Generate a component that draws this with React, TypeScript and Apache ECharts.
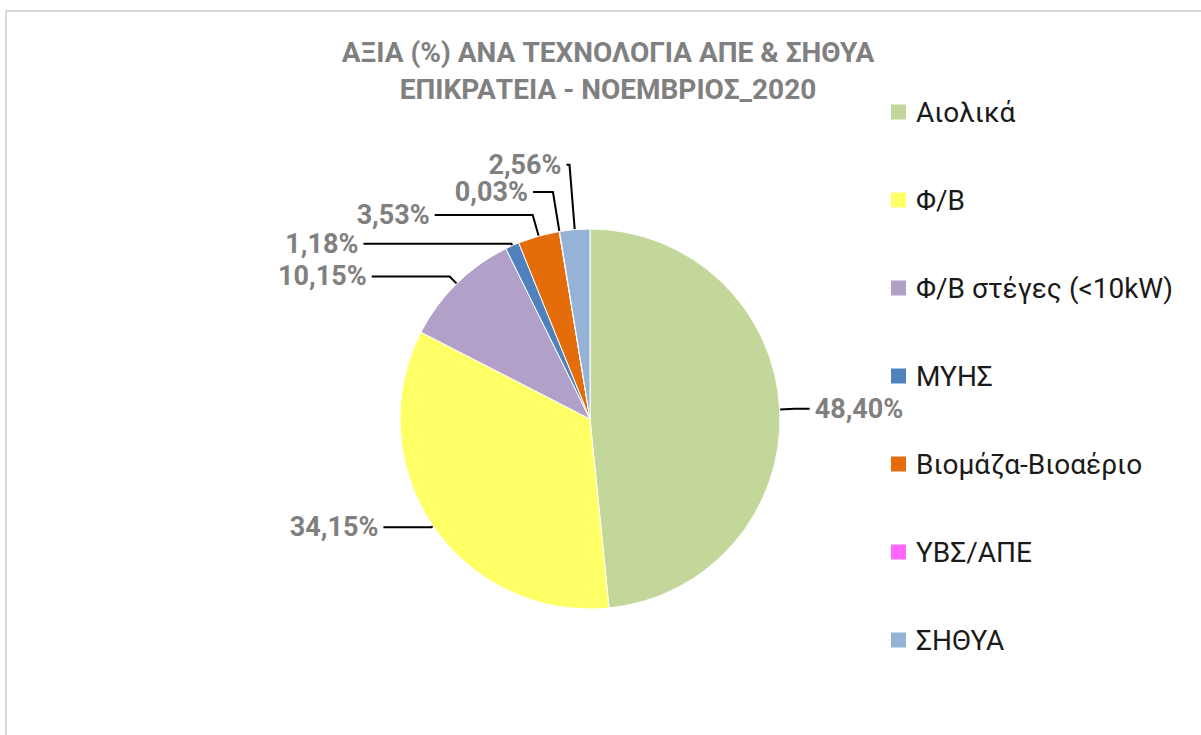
import React, { useEffect, useRef } from "react";
import * as echarts from "echarts";

const categories = [
  "Αιολικά",
  "Φ/Β",
  "Φ/Β στέγες (<10kW)",
  "ΜΥΗΣ",
  "Βιομάζα-Βιοαέριο",
  "ΥΒΣ/ΑΠΕ",
  "ΣΗΘΥΑ",
];
const shares = [48.4, 34.15, 10.15, 1.18, 3.53, 0.03, 2.56];
const colors = ["#C4D79B", "#FFFF66", "#B1A0C7", "#4F81BD", "#E46C0A", "#FF66FF", "#95B3D7"];
const titleText = "ΑΞΙΑ (%) ΑΝΑ ΤΕΧΝΟΛΟΓΙΑ ΑΠΕ & ΣΗΘΥΑ\nΕΠΙΚΡΑΤΕΙΑ - ΝΟΕΜΒΡΙΟΣ_2020";

const FONT = "Roboto, 'Noto Sans', sans-serif";

export default function App() {
  const ref = useRef<HTMLDivElement>(null);
  useEffect(() => {
    document.body.style.margin = "0";
    // leader-line styling per slice: [radial length, horizontal length]
    const leader: [number, number][] = [
      [15, 15],
      [2, 48],
      [10, 78],
      [2, 148],
      [22, 98],
      [40, 20],
      [65, 3],
    ];
    const chart = echarts.init(ref.current!, null, { renderer: "svg" });
    chart.setOption({
      animation: false,
      backgroundColor: "#fff",
      title: {
        text: titleText,
        left: 608,
        top: 34,
        padding: 0,
        textAlign: "center",
        textStyle: {
          fontFamily: FONT,
          fontSize: 28,
          fontWeight: "bold",
          color: "#808080",
          lineHeight: 37,
        },
      },
      legend: {
        orient: "vertical",
        left: 889,
        top: 97,
        padding: 0,
        icon: "rect",
        itemWidth: 17,
        itemHeight: 17,
        itemGap: 58,
        data: categories,
        textStyle: {
          fontFamily: FONT,
          fontSize: 28,
          color: "#1a1a1a",
          lineHeight: 30,
          padding: [0, 0, 0, 4],
        },
      },
      graphic: [
        {
          type: "rect",
          shape: { x: 6, y: 11, width: 1400, height: 900 },
          style: { fill: "none", stroke: "#d9d9d9", lineWidth: 2 },
          silent: true,
        },
      ],
      series: [
        {
          type: "pie",
          center: [590, 419],
          radius: 190,
          startAngle: 90,
          clockwise: true,
          avoidLabelOverlap: false,
          labelLayout: { hideOverlap: false },
          itemStyle: { borderColor: "#ffffff", borderWidth: 1 },
          label: {
            show: true,
            position: "outside",
            formatter: (p: any) => p.value.toFixed(2).replace(".", ",") + "%",
            fontFamily: FONT,
            fontSize: 27,
            fontWeight: "bold",
            color: "#808080",
            lineHeight: 24,
          },
          labelLine: {
            show: true,
            lineStyle: { color: "#000", width: 2 },
          },
          data: categories.map((name, i) => ({
            name,
            value: shares[i],
            itemStyle: { color: colors[i] },
            labelLine: { length: leader[i][0], length2: leader[i][1] },
          })),
        },
      ],
    });
    return () => chart.dispose();
  }, []);
  return <div ref={ref} style={{ width: 1201, height: 735 }} />;
}
